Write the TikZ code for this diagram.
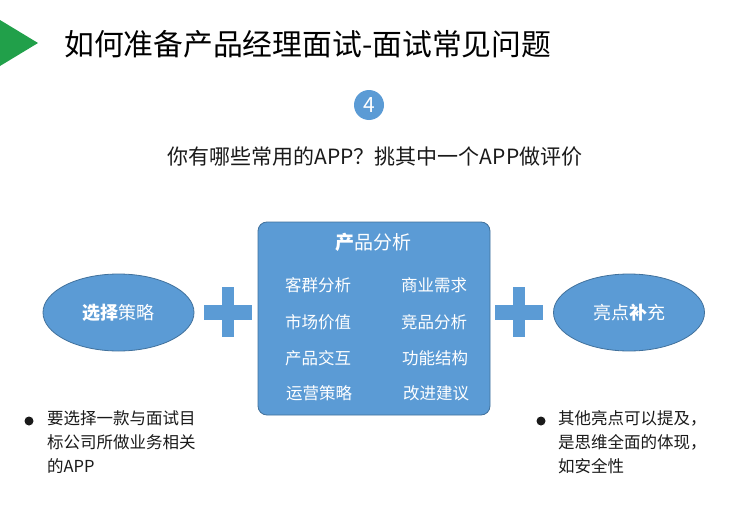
\documentclass[tikz,border=0pt]{standalone}
\usepackage{fontspec}
\setmainfont{Noto Sans CJK SC}
\setsansfont{Noto Sans CJK SC}
\usetikzlibrary{shapes.geometric}
\definecolor{fillblue}{HTML}{5B9BD5}
\definecolor{edgeblue}{HTML}{41719C}
\definecolor{tri}{HTML}{21A04A}
\definecolor{txt}{HTML}{1A1A1A}
\tikzset{
  ell/.style={ellipse, draw=edgeblue, line width=0.8pt, fill=fillblue, minimum width=151pt, minimum height=77pt, inner sep=0pt, text=white, font=\fontsize{18}{20}\selectfont},
  item/.style={text=white, font=\fontsize{16.5}{18}\selectfont, inner sep=0pt},
  bul/.style={anchor=north west, text=txt, align=left, font=\fontsize{16.5}{24}\selectfont, inner sep=0pt},
  dot/.style={circle, fill=txt, minimum size=9pt, inner sep=0pt}
}
\begin{document}
\begin{tikzpicture}[x=1pt,y=-1pt]
\useasboundingbox[fill=white] (0,0) rectangle (732,514);
% green triangle
\fill[tri] (0,20) -- (38,43) -- (0,66) -- cycle;
\node[anchor=west, inner sep=0pt, font=\fontsize{29.8}{31}\selectfont, text=black] (title) at (64,44) {如何准备产品经理面试-面试常见问题};
% number circle
\node[circle, fill=fillblue, minimum size=30pt, inner sep=0pt, text=white, font=\fontsize{21}{22}\selectfont] (num) at (369,105) {4};
\node[inner sep=0pt, font=\fontsize{21}{23}\selectfont, text=txt] (sub) at (375,157) {你有哪些常用的APP？挑其中一个APP做评价};
% left ellipse
\node[ell] (left) at (118.5,312.5) {\textbf{选择}策略};
% right ellipse
\node[ell] (right) at (629,312.5) {亮点\textbf{补}充};
% plus signs
\foreach \cx/\nm in {228/pl, 519/pr}{
  \fill[fillblue] (\cx-24,304.5) rectangle (\cx+24,319.5);
  \fill[fillblue] (\cx-6,287) rectangle (\cx+6,337);
}
% central box
\node[draw=edgeblue, line width=0.8pt, fill=fillblue, rounded corners=9pt, minimum width=232pt, minimum height=193pt, inner sep=0pt] (box) at (374,318.5) {};
\node[text=white, font=\fontsize{19}{21}\selectfont, inner sep=0pt] (btitle) at (373,242) {\textbf{产}品分析};
\node[item] (a1) at (318,285) {客群分析};
\node[item] (a2) at (318,322) {市场价值};
\node[item] (a3) at (318,358) {产品交互};
\node[item] (a4) at (319,393) {运营策略};
\node[item] (b1) at (434,285) {商业需求};
\node[item] (b2) at (434,322) {竞品分析};
\node[item] (b3) at (435,358) {功能结构};
\node[item] (b4) at (436,393) {改进建议};
% bullets
\node[dot] (d1) at (29,421) {};
\node[bul] (t1) at (47,410) {要选择一款与面试目\\标公司所做业务相关\\的APP};
\node[dot] (d2) at (541,421) {};
\node[bul] (t2) at (558,410) {其他亮点可以提及，\\是思维全面的体现，\\如安全性};
\end{tikzpicture}
\end{document}
